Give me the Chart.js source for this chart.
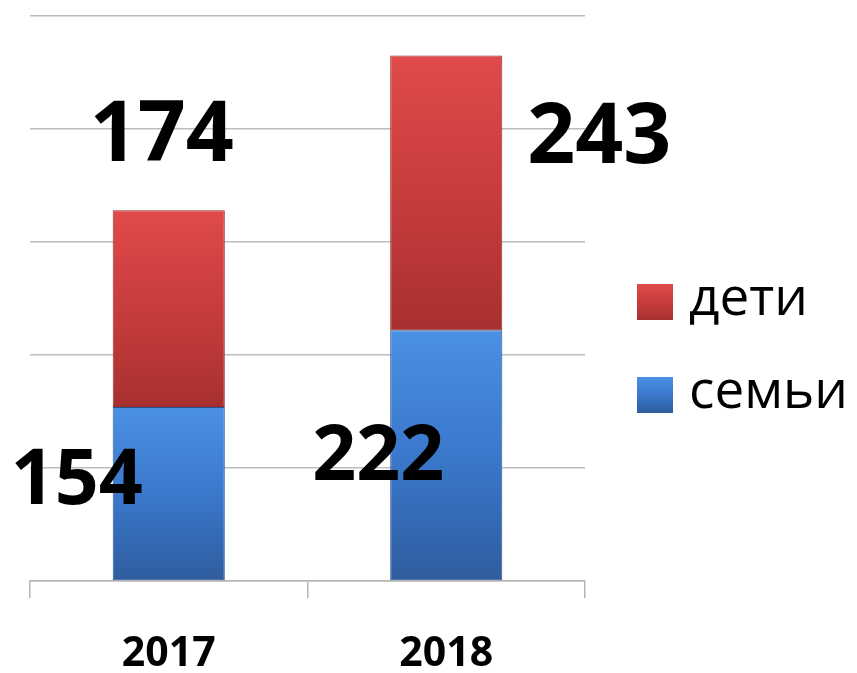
<!DOCTYPE html>
<html>
<head>
<meta charset="utf-8">
<script src="https://cdn.jsdelivr.net/npm/chart.js@4/dist/chart.umd.min.js"></script>
<style>
  html, body { margin: 0; padding: 0; background: #fff; }
  #wrap { width: 857px; height: 673px; }
</style>
</head>
<body>
<div id="wrap"><canvas id="chart" width="857" height="673"></canvas></div>
<script>
// data
const years = ['2017', '2018'];
const families = [154, 222];   // семьи
const children = [174, 243];   // дети
const yTicks = [0, 100, 200, 300, 400, 500];

// label offsets: [dx from bar center, dy from bar top] per dataset/index
const labelOffsets = [
    [[-92, 75], [-68, 128]],
    [[-7, -73], [153, 84]]
];
const labelSizes = [77, 84];

const palette = {
    blue: ['#4a90e4', '#3a78cc', '#2f5c9e'],
    red: ['#e04a4a', '#c83c3c', '#a83030']
};

function segGradient(c, base, top, cols) {
    const chart = c.chart;
    const y = chart.scales.y;
    if (!chart.chartArea || !y || c.dataIndex === undefined) return cols[1];
    const y0 = y.getPixelForValue(base[c.dataIndex]);
    const y1 = y.getPixelForValue(top[c.dataIndex]);
    const g = chart.ctx.createLinearGradient(0, y1, 0, y0);
    g.addColorStop(0, cols[0]);
    g.addColorStop(0.5, cols[1]);
    g.addColorStop(1, cols[2]);
    return g;
}

const zeros = years.map(() => 0);
const totals = years.map((_, i) => families[i] + children[i]);

// value labels, placed off to the side like the original
const valueLabels = {
    id: 'valueLabels',
    afterDatasetsDraw(chart) {
        const ctx = chart.ctx;
        ctx.save();
        ctx.fillStyle = '#000';
        ctx.textAlign = 'center';
        ctx.textBaseline = 'middle';
        chart.data.datasets.forEach((ds, di) => {
            const meta = chart.getDatasetMeta(di);
            ctx.font = 'bold ' + labelSizes[di] + 'px "Open Sans", sans-serif';
            meta.data.forEach((bar, i) => {
                const off = labelOffsets[di][i];
                ctx.fillText(String(ds.data[i]), bar.x + off[0], bar.y + off[1]);
            });
        });
        ctx.restore();
    }
};

// legend drawn on the right, дети above семьи
const sideLegend = {
    id: 'sideLegend',
    afterDraw(chart) {
        const ctx = chart.ctx;
        const items = [
            { text: 'дети', cols: palette.red, cy: 302 },
            { text: 'семьи', cols: palette.blue, cy: 395 }
        ];
        ctx.save();
        items.forEach(it => {
            const g = ctx.createLinearGradient(0, it.cy - 18, 0, it.cy + 18);
            g.addColorStop(0, it.cols[0]);
            g.addColorStop(0.5, it.cols[1]);
            g.addColorStop(1, it.cols[2]);
            ctx.fillStyle = g;
            ctx.fillRect(637, it.cy - 18, 36, 36);
            ctx.fillStyle = '#000';
            ctx.font = '53px "Open Sans", sans-serif';
            ctx.textAlign = 'left';
            ctx.textBaseline = 'middle';
            ctx.fillText(it.text, 689, it.cy - 2);
        });
        ctx.restore();
    }
};

new Chart(document.getElementById('chart'), {
    type: 'bar',
    data: {
        labels: years,
        datasets: [
            {
                label: 'семьи',
                data: families,
                backgroundColor: c => segGradient(c, zeros, families, palette.blue),
                borderColor: '#2b5590',
                borderWidth: 1,
                borderSkipped: false
            },
            {
                label: 'дети',
                data: children,
                backgroundColor: c => segGradient(c, families, totals, palette.red),
                borderColor: '#962a2a',
                borderWidth: 1,
                borderSkipped: false
            }
        ]
    },
    options: {
        responsive: false,
        animation: false,
        devicePixelRatio: 1,
        // ticks.padding is counted twice in the axis height, give it back here
        layout: { padding: { left: 30, right: 272, top: 16, bottom: -38 } },
        datasets: { bar: { barPercentage: 0.404, categoryPercentage: 1 } },
        plugins: { legend: { display: false }, tooltip: { enabled: false } },
        scales: {
            x: {
                stacked: true,
                grid: {
                    offset: true,
                    drawOnChartArea: false,
                    drawTicks: true,
                    tickLength: 17,
                    color: '#b5b5b5',
                    lineWidth: 1.5
                },
                border: { display: true, color: '#b5b5b5', width: 1.5 },
                ticks: {
                    color: '#000',
                    padding: 36,
                    font: { family: '"Open Sans", sans-serif', size: 41, weight: 'bold', lineHeight: 1.0 }
                }
            },
            y: {
                stacked: true,
                min: yTicks[0],
                max: yTicks[yTicks.length - 1],
                afterBuildTicks: axis => { axis.ticks = yTicks.map(v => ({ value: v })); },
                grid: { color: '#bdbdbd', lineWidth: 1.5, drawTicks: false },
                border: { display: false },
                ticks: { display: false }
            }
        }
    },
    plugins: [valueLabels, sideLegend]
});
</script>
</body>
</html>
